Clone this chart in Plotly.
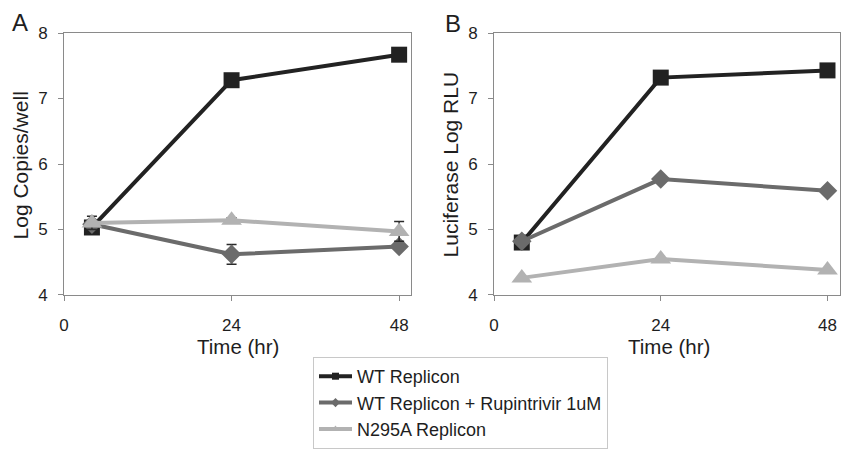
import plotly.graph_objects as go

time_hr = [4, 24, 48]
series_names = ["WT Replicon", "WT Replicon + Rupintrivir 1uM", "N295A Replicon"]

# Panel A: Log Copies/well
a_wt = [5.03, 7.28, 7.67]
a_rup = [5.08, 4.62, 4.74]
a_n295a = [5.10, 5.14, 4.97]
a_rup_err = [0.05, 0.15, 0.03]
a_n295a_err = [0.10, 0.04, 0.15]

# Panel B: Luciferase Log RLU
b_wt = [4.80, 7.32, 7.43]
b_rup = [4.82, 5.77, 5.59]
b_n295a = [4.26, 4.55, 4.38]

x_ticks = [0, 24, 48]
y_ticks = [4, 5, 6, 7, 8]

colors = ["#222222", "#6b6b6b", "#b2b2b2"]
symbols = ["square", "diamond", "triangle-up"]
sizes = [16, 15, 18]

W, H = 841, 449
FONT = "Liberation Sans, Arial, sans-serif"
TXT = "#1e1e1e"

fig = go.Figure()

panel_a = [a_wt, a_rup, a_n295a]
panel_a_err = [None, a_rup_err, a_n295a_err]
panel_b = [b_wt, b_rup, b_n295a]

for i, (name, ys, err) in enumerate(zip(series_names, panel_a, panel_a_err)):
    fig.add_trace(go.Scatter(
        x=time_hr, y=ys, name=name, mode="lines+markers",
        line=dict(color=colors[i], width=4),
        marker=dict(symbol=symbols[i], size=sizes[i], color=colors[i]),
        error_y=(dict(type="data", array=err, visible=True, color="#2a2a2a", thickness=1.5, width=5)
                 if err is not None else None),
        xaxis="x", yaxis="y", showlegend=False,
    ))

for i, (name, ys) in enumerate(zip(series_names, panel_b)):
    fig.add_trace(go.Scatter(
        x=time_hr, y=ys, name=name, mode="lines+markers",
        line=dict(color=colors[i], width=4),
        marker=dict(symbol=symbols[i], size=sizes[i], color=colors[i]),
        xaxis="x2", yaxis="y2", showlegend=False,
    ))

# legend entries (small markers as in the reference legend)
for i, name in enumerate(series_names):
    fig.add_trace(go.Scatter(
        x=[None], y=[None], name=name, mode="lines+markers",
        line=dict(color=colors[i], width=4),
        marker=dict(symbol=symbols[i], size=7, color=colors[i]),
        xaxis="x", yaxis="y", showlegend=True,
    ))

def px_x(p):
    return p / W

def px_y(p):
    return 1 - p / H

axis_common = dict(
    showgrid=False, zeroline=False, showline=True, linecolor="#8a8a8a", linewidth=1,
    mirror=True, ticks="outside", ticklen=5, tickcolor="#8a8a8a", automargin=False,
    tickfont=dict(family=FONT, size=17, color=TXT),
)

fig.update_layout(
    width=W, height=H,
    margin=dict(l=0, r=0, t=0, b=0),
    paper_bgcolor="white", plot_bgcolor="white",
    font=dict(family=FONT, color=TXT),
    xaxis=dict(domain=[px_x(64), px_x(411)], range=[0, 49.7], tickvals=x_ticks,
               ticklabelstandoff=10, anchor="y", **axis_common),
    yaxis=dict(domain=[px_y(303), px_y(34)], range=[4, 8], tickvals=y_ticks,
               ticklabelstandoff=7, anchor="x", **axis_common),
    xaxis2=dict(domain=[px_x(494), px_x(840)], range=[0, 49.8], tickvals=x_ticks,
                ticklabelstandoff=10, anchor="y2", **axis_common),
    yaxis2=dict(domain=[px_y(303), px_y(34)], range=[4, 8], tickvals=y_ticks,
                ticklabelstandoff=7, anchor="x2", **axis_common),
    legend=dict(
        x=px_x(313), y=px_y(367), xanchor="left", yanchor="top",
        bordercolor="#c8c8c8", borderwidth=1, bgcolor="white",
        font=dict(family=FONT, size=18, color=TXT),
        tracegroupgap=0, itemwidth=33,
    ),
)

def note(text, x, y, size, angle=0):
    fig.add_annotation(text=text, x=px_x(x), y=px_y(y), xref="paper", yref="paper",
                       xanchor="center", yanchor="middle", showarrow=False, textangle=angle,
                       font=dict(family=FONT, size=size, color=TXT))

note("A", 20, 23, 24)
note("B", 453, 24, 24)
note("Log Copies/well", 20, 170, 21, -90)
note("Luciferase Log RLU", 450, 169, 21, -90)
note("Time (hr)", 238, 356, 20.5)
note("Time (hr)", 669, 356, 20.5)

fig.write_html("out.html", config={"displayModeBar": False},
               post_script="document.body.style.margin='0';document.body.style.overflow='hidden';")
